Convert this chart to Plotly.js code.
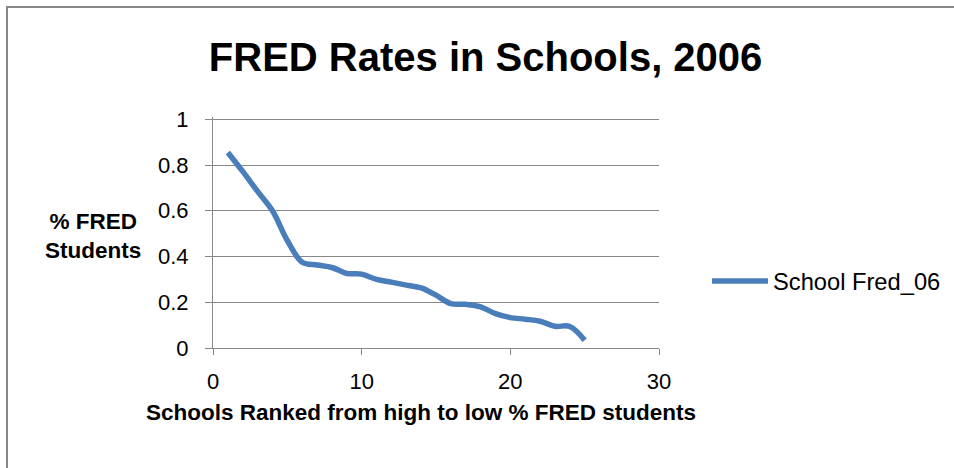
<!DOCTYPE html>
<html>
<head>
<meta charset="utf-8">
<script src="https://cdn.plot.ly/plotly-3.0.1.min.js"></script>
<style>
  html, body { margin: 0; padding: 0; background: #ffffff; overflow: hidden; }
  #chart { width: 954px; height: 468px; }
</style>
</head>
<body>
<div id="chart"></div>
<script>
// School rank (1 = highest share of FRED students)
const schoolRank = [1, 2, 3, 4, 5, 6, 7, 8, 9, 10, 11, 12, 13, 14, 15, 16, 17, 18, 19, 20, 21, 22, 23, 24, 25];
// Share of FRED students per school, 2006
const fredShare06 = [0.855, 0.772, 0.685, 0.600, 0.470, 0.375, 0.363, 0.352, 0.326, 0.323,
                     0.300, 0.288, 0.275, 0.263, 0.231, 0.194, 0.191, 0.180, 0.150, 0.133,
                     0.126, 0.117, 0.095, 0.094, 0.034];
const seriesName = 'School Fred_06';
const xTicks = [0, 10, 20, 30];
const yTicks = [0, 0.2, 0.4, 0.6, 0.8, 1];
const yTickText = ['0', '0.2', '0.4', '0.6', '0.8', '1'];

const font = 'Liberation Sans, Arial, sans-serif';
const grey = '#878787';

// plot area in pixels: x 213..659, y 117..348 (y range runs a little past 1
// so the top gridline at 1 is kept)
const L = 213, T = 117, B = 348;
const PW = 446, PH = B - T;
const px = v => (v - L) / PW;      // page x -> paper x
const py = v => (B - v) / PH;      // page y -> paper y

const trace = {
  x: schoolRank,
  y: fredShare06,
  name: seriesName,
  type: 'scatter',
  mode: 'lines',
  line: { color: '#4A7EBB', width: 5.5, shape: 'spline', smoothing: 1 },
  showlegend: true
};

// chart frame: left and top edges only
const framePath = `M ${px(7)},${py(470)} L ${px(7)},${py(7)} L ${px(956)},${py(7)}`;

const layout = {
  width: 954,
  height: 468,
  margin: { l: L, r: 954 - L - PW, t: T, b: 468 - B, autoexpand: false },
  paper_bgcolor: '#ffffff',
  plot_bgcolor: '#ffffff',
  font: { family: font, color: '#000000', size: 22 },
  title: {
    text: '<b>FRED Rates in Schools, 2006</b>',
    font: { family: font, size: 40, color: '#000000' },
    x: 0.509, xref: 'container', xanchor: 'center',
    y: 0.878, yref: 'container', yanchor: 'middle'
  },
  xaxis: {
    range: [0, 30],
    tickvals: xTicks,
    ticks: 'outside', ticklen: 6, tickcolor: grey, tickwidth: 1,
    ticklabelstandoff: 8,
    showline: true, linecolor: grey, linewidth: 1,
    showgrid: false, zeroline: false,
    tickfont: { family: font, size: 22, color: '#000000' },
    fixedrange: true
  },
  yaxis: {
    range: [0, 1.01],
    tickvals: yTicks,
    ticktext: yTickText,
    ticks: 'outside', ticklen: 7, tickcolor: grey, tickwidth: 1,
    ticklabelstandoff: 12,
    showline: true, linecolor: grey, linewidth: 1,
    showgrid: true, gridcolor: grey, gridwidth: 1,
    zeroline: false,
    tickfont: { family: font, size: 22, color: '#000000' },
    fixedrange: true
  },
  legend: {
    x: px(707), xanchor: 'left',
    y: py(281), yanchor: 'middle',
    yref: 'paper',
    maxheight: 0.5,
    font: { family: font, size: 23.7, color: '#000000' },
    bgcolor: 'rgba(0,0,0,0)',
    itemwidth: 56
  },
  annotations: [
    {
      text: '<b>Schools Ranked from high to low % FRED students</b>',
      xref: 'paper', yref: 'paper',
      x: px(421), y: py(412),
      xanchor: 'center', yanchor: 'middle',
      showarrow: false,
      font: { family: font, size: 22.5, color: '#000000' }
    },
    {
      text: '<b>% FRED</b><br><b>Students</b>',
      xref: 'paper', yref: 'paper',
      x: px(93), y: py(236),
      xanchor: 'center', yanchor: 'middle',
      align: 'center',
      showarrow: false,
      font: { family: font, size: 22.5, color: '#000000' }
    }
  ],
  shapes: [
    { type: 'path', xref: 'paper', yref: 'paper', path: framePath,
      line: { color: grey, width: 2 }, fillcolor: 'rgba(0,0,0,0)' }
  ]
};

Plotly.newPlot('chart', [trace], layout, { displayModeBar: false, staticPlot: true }).then(gd => {
  // hide any legend scroll bar; the single entry always fits
  gd.querySelectorAll('.legend .scrollbar').forEach(el => el.setAttribute('width', 0));
});
</script>
</body>
</html>
